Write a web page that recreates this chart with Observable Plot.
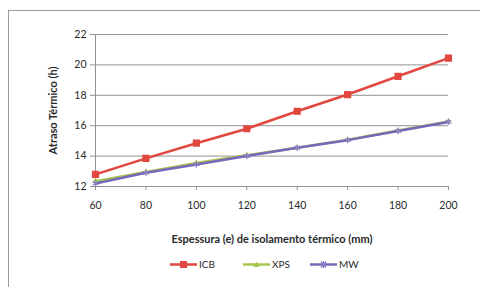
<!DOCTYPE html>
<html>
<head>
<meta charset="utf-8">
<script src="https://cdn.jsdelivr.net/npm/d3@7"></script>
<script src="https://cdn.jsdelivr.net/npm/@observablehq/plot@0.6"></script>
<style>
  html, body { margin: 0; padding: 0; background: #fff; overflow: hidden; }
  #wrap { position: relative; width: 480px; height: 287px; font-family: Lato, "Liberation Sans", sans-serif; }
  #frame { position: absolute; left: 8px; top: 10px; width: 490px; height: 300px; border: 1px solid #9a9a9a; box-sizing: border-box; }
  #chart { position: absolute; left: 0; top: 0; }
  #chart svg { font-family: Lato, "Liberation Sans", sans-serif; }
  #chart svg [aria-label="x-axis label"], #chart svg [aria-label="y-axis label"] { font-weight: bold; font-size: 11px; fill: #2a2a2a; }
  #chart svg [aria-label="x-axis tick label"], #chart svg [aria-label="y-axis tick label"] { fill: #2a2a2a; }
  #legend { position: absolute; top: 257px; left: 0; width: 480px; height: 14px; font-size: 10px; color: #2a2a2a; }
  .item { position: absolute; top: 0; display: flex; align-items: center; }
  .item span { margin-left: 2px; }
</style>
</head>
<body>
<div id="wrap">
  <div id="frame"></div>
  <div id="chart"></div>
  <div id="legend"></div>
</div>
<script>
const thickness = [60, 80, 100, 120, 140, 160, 180, 200];
const icb = [12.8, 13.85, 14.85, 15.8, 16.95, 18.05, 19.25, 20.45];
const xps = [12.35, 12.95, 13.55, 14.05, 14.55, 15.08, 15.68, 16.28];
const mw  = [12.2, 12.9, 13.45, 14.0, 14.55, 15.05, 15.65, 16.25];
const seriesNames = ["ICB", "XPS", "MW"];
const seriesColors = ["#e2473f", "#a6c650", "#7668ba"];
const seriesSymbols = ["square", "triangle", "asterisk"];
const yTicks = [12, 14, 16, 18, 20, 22];
const xTitle = "Espessura (e) de isolamento térmico (mm)";
const yTitle = "Atraso Térmico (h)";

const seriesValues = [icb, xps, mw];
const data = [];
seriesNames.forEach((name, i) => {
  thickness.forEach((t, j) => data.push({series: name, x: t, y: seriesValues[i][j]}));
});
const drawOrder = ["XPS", "MW", "ICB"];

const marks = [
  Plot.ruleY(yTicks, {stroke: "#939393", strokeWidth: 1}),
  Plot.ruleX([60], {stroke: "#939393", strokeWidth: 1}),
  Plot.axisY({ticks: yTicks, tickSize: 5, tickPadding: 4, stroke: "#939393", fontSize: 10.5,
    label: yTitle, labelAnchor: "center", labelArrow: "none", labelOffset: 46}),
  Plot.axisX({ticks: thickness, tickSize: 4, tickPadding: 11, stroke: "#939393", fontSize: 10.5,
    label: xTitle, labelAnchor: "center", labelArrow: "none", labelOffset: 56})
];
drawOrder.forEach(name => {
  const i = seriesNames.indexOf(name);
  const d = data.filter(r => r.series === name);
  marks.push(Plot.line(d, {x: "x", y: "y", stroke: seriesColors[i], strokeWidth: 2.5}));
  if (seriesSymbols[i] === "asterisk") {
    marks.push(Plot.dot(d, {x: "x", y: "y", symbol: "asterisk", stroke: "#8a80c4", strokeWidth: 1.3, r: 3}));
  } else if (seriesSymbols[i] === "triangle") {
    marks.push(Plot.dot(d, {x: "x", y: "y", symbol: "triangle", fill: seriesColors[i], r: 2.3}));
  } else {
    marks.push(Plot.dot(d, {x: "x", y: "y", symbol: "square", fill: seriesColors[i], stroke: seriesColors[i], r: 3.2}));
  }
});

const chart = Plot.plot({
  width: 480, height: 287,
  marginLeft: 95, marginRight: 32, marginTop: 34, marginBottom: 101,
  x: {domain: [60, 200]},
  y: {domain: [12, 22]},
  style: {background: "transparent", fontFamily: "Lato, 'Liberation Sans', sans-serif"},
  marks
});
document.getElementById("chart").appendChild(chart);

// Legend
const legend = document.getElementById("legend");
const lefts = [170, 243, 310];
seriesNames.forEach((name, i) => {
  const el = document.createElement("div");
  el.className = "item";
  el.style.left = lefts[i] + "px";
  const c = seriesColors[i];
  let marker;
  if (seriesSymbols[i] === "square") marker = `<rect x="10" y="4" width="7" height="7" fill="${c}"/>`;
  else if (seriesSymbols[i] === "triangle") marker = `<path d="M13.5,4.5 L16.5,10 L10.5,10 Z" fill="${c}"/>`;
  else marker = `<path d="M11,4.5 L16,10.5 M16,4.5 L11,10.5 M13.5,4 L13.5,11" stroke="#8a80c4" stroke-width="1.3"/>`;
  el.innerHTML = `<svg width="27" height="14"><line x1="0" x2="27" y1="7.5" y2="7.5" stroke="${c}" stroke-width="2.5"/>${marker}</svg><span>${name}</span>`;
  legend.appendChild(el);
});
</script>
</body>
</html>
